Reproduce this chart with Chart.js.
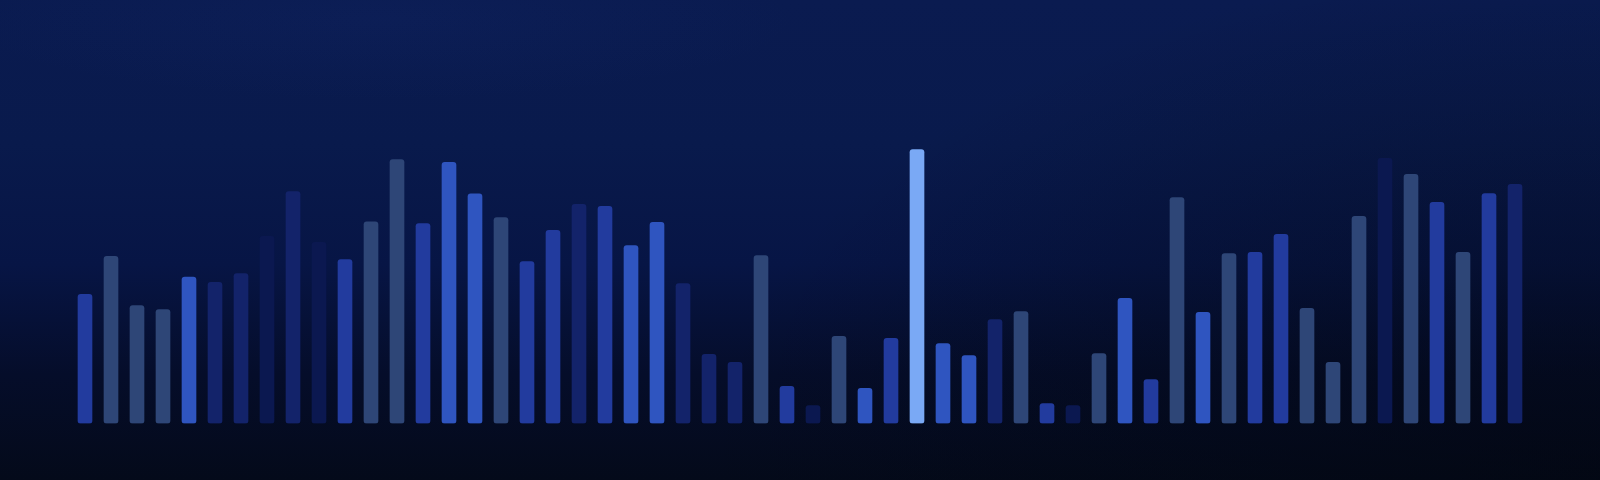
<!DOCTYPE html>
<html>
<head>
<meta charset="utf-8">
<script src="https://cdn.jsdelivr.net/npm/chart.js@4"></script>
<style>
  html, body { margin: 0; padding: 0; }
  body {
    width: 1600px; height: 480px; overflow: hidden;
    background:
      radial-gradient(ellipse 420px 80px at 380px 20px, rgba(40,70,170,0.07), rgba(40,70,170,0) 100%),
      radial-gradient(ellipse 900px 520px at 1600px 480px, rgba(2,6,16,0.6), rgba(2,6,16,0) 100%),
      linear-gradient(180deg, #0a1b50 0%, #091a4c 30%, #071545 55%, #050d2a 78%, #040a1a 100%);
  }
  #wrap { width: 1600px; height: 480px; }
</style>
</head>
<body>
<div id="wrap"><canvas id="myChart" width="1600" height="480"></canvas></div>
<script>
var labels = [];
for (var i = 1; i <= 56; i++) labels.push('B' + i);

var values = [32.3, 41.8, 29.5, 28.5, 36.6, 35.3, 37.5, 46.8, 58.0, 45.3,
              41.0, 50.4, 66.0, 50.0, 65.3, 57.4, 51.5, 40.5, 48.3, 54.8,
              54.3, 44.5, 50.3, 35.0, 17.3, 15.3, 42.0, 9.3, 4.5, 21.8,
              8.8, 21.3, 68.5, 20.0, 17.0, 26.0, 28.0, 5.0, 4.5, 17.5,
              31.3, 11.0, 56.5, 27.8, 42.5, 42.8, 47.3, 28.8, 15.3, 51.8,
              66.3, 62.3, 55.3, 42.8, 57.5, 59.8];

// tone of each bar (key into palette below)
var tones = ['B','C','C','C','A','D','D','E','D','E',
             'B','C','C','B','A','A','C','B','B','D',
             'B','A','A','D','D','D','C','B','E','C',
             'A','B','F','A','A','D','C','B','E','C',
             'A','B','C','A','C','B','B','C','C','C',
             'E','C','B','C','B','D'];

var palette = {
  A: '#2f55c0',
  B: '#223b9e',
  C: '#2e4677',
  D: '#13236a',
  E: '#0b1850',
  F: '#7aa9f5'
};

var ctx = document.getElementById('myChart').getContext('2d');
var myChart = new Chart(ctx, {
  type: 'bar',
  data: {
    labels: labels,
    datasets: [{
      data: values,
      backgroundColor: tones.map(function (t) { return palette[t]; }),
      borderWidth: 0,
      borderRadius: 3,
      borderSkipped: false,
      barThickness: 14
    }]
  },
  options: {
    responsive: false,
    animation: false,
    layout: {
      padding: { left: 72, right: 72, top: 23.5, bottom: 56.5 }
    },
    plugins: {
      legend: { display: false },
      tooltip: { enabled: false }
    },
    scales: {
      x: { display: false },
      y: { display: false, min: 0, max: 100 }
    }
  }
});
</script>
</body>
</html>
